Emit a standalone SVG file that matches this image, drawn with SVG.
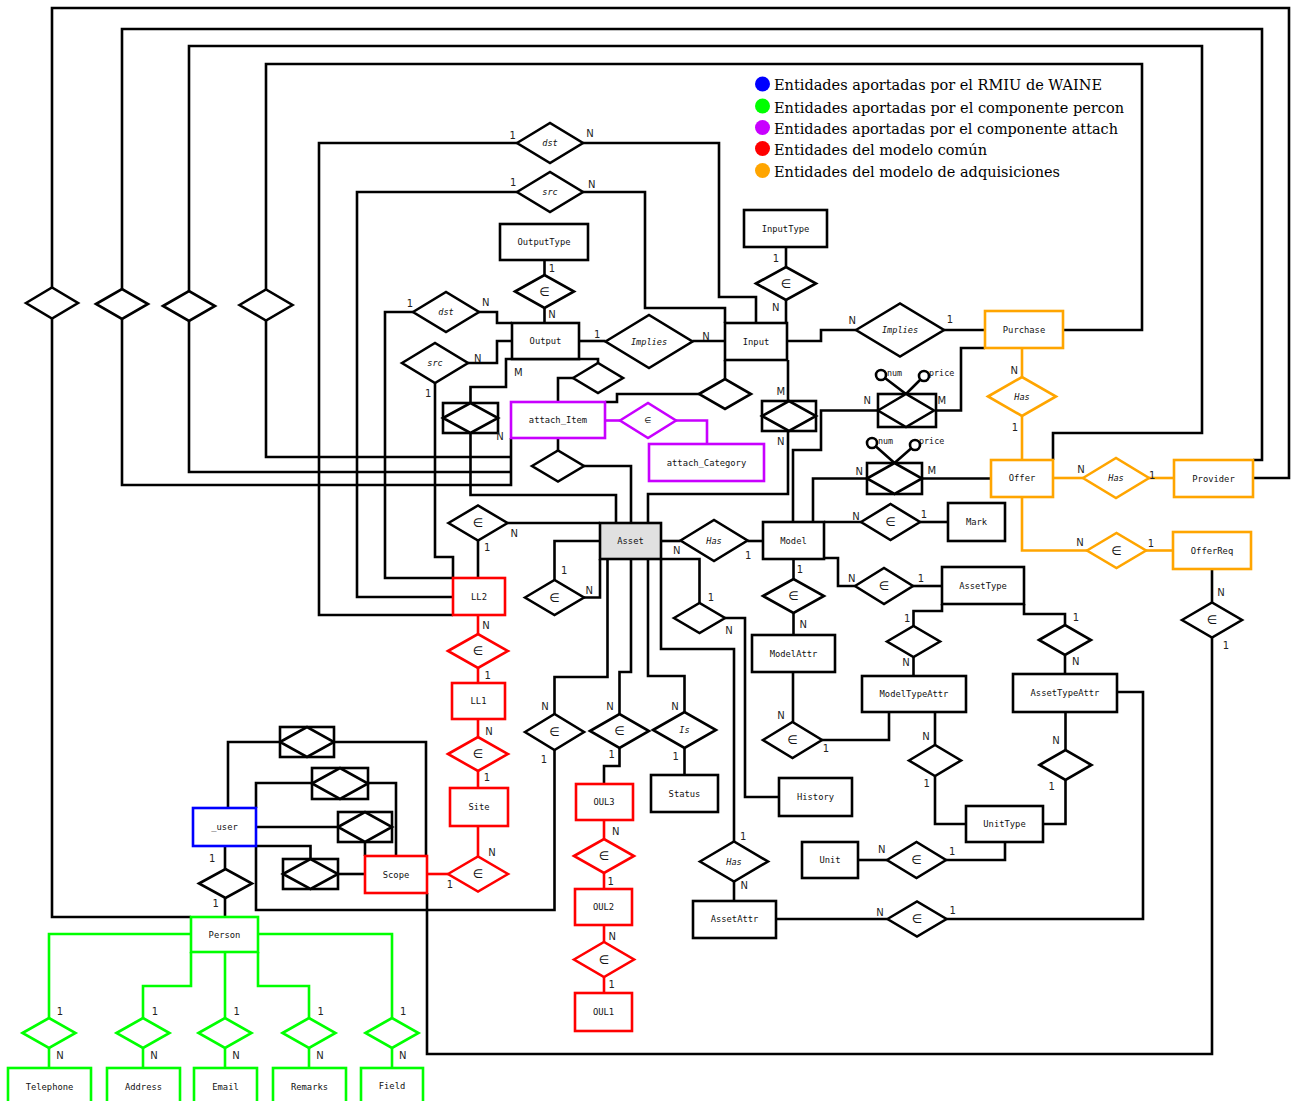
<svg xmlns="http://www.w3.org/2000/svg" width="1291" height="1101" viewBox="0 0 1291 1101">
<style>
.c{fill:none;stroke:#000;stroke-width:2.6;stroke-linejoin:miter}
.cr{fill:none;stroke:#f00;stroke-width:2.6}
.co{fill:none;stroke:#ffa500;stroke-width:2.6}
.cg{fill:none;stroke:#0f0;stroke-width:2.6}
.cp{fill:none;stroke:#c800ff;stroke-width:2.6}
.e{fill:#fff;stroke:#000;stroke-width:2.6}
.er{fill:#fff;stroke:#f00;stroke-width:2.6}
.eo{fill:#fff;stroke:#ffa500;stroke-width:2.6}
.eg{fill:#fff;stroke:#0f0;stroke-width:2.6}
.eb{fill:#fff;stroke:#00f;stroke-width:2.6}
.ep{fill:#fff;stroke:#c800ff;stroke-width:2.6}
.ea{fill:#e0e0e0;stroke:#000;stroke-width:2.6}
.d{fill:#fff;stroke:#000;stroke-width:2.6}
.dr{fill:#fff;stroke:#f00;stroke-width:2.6}
.do{fill:#fff;stroke:#ffa500;stroke-width:2.6}
.dg{fill:#fff;stroke:#0f0;stroke-width:2.6}
.dp{fill:#fff;stroke:#c800ff;stroke-width:2.6}
.ci{fill:#fff;stroke:#000;stroke-width:2.6}
.t{font-family:"DejaVu Sans Mono",monospace;font-size:8.8px;text-anchor:middle;dominant-baseline:central;fill:#111}
.ti{font-family:"DejaVu Sans Mono",monospace;font-size:8.6px;font-style:italic;text-anchor:middle;dominant-baseline:central;fill:#111}
.ta{font-family:"DejaVu Sans Mono",monospace;font-size:8.4px;dominant-baseline:central;fill:#111}
.k{font-family:"DejaVu Sans",sans-serif;font-size:10px;text-anchor:middle;dominant-baseline:central;fill:#222}
.in{font-family:"DejaVu Sans",sans-serif;font-size:12px;text-anchor:middle;dominant-baseline:central;fill:#111}
.lg{font-family:"DejaVu Serif",serif;font-size:15.5px;fill:#000}
</style>

<g id="connectors">
<polyline class="c" points="52,287.5 52,8 1289,8 1289,478 1253,478"/>
<polyline class="c" points="52,318.5 52,917 191,917"/>
<polyline class="c" points="122,289 122,29 1262,29 1262,460 1253,460"/>
<polyline class="c" points="122,319 122,485 511,485 511,438"/>
<polyline class="c" points="189,291 189,46 1202,46 1202,433 1053,433 1053,460"/>
<polyline class="c" points="189,321 189,472 511,472"/>
<polyline class="c" points="266,289.5 266,64 1142,64 1142,330 1063,330"/>
<polyline class="c" points="266,320.5 266,457 511,457"/>
<polyline class="c" points="517,143 319,143 319,615 453,615"/>
<polyline class="c" points="583,143 719,143 719,297 756,297 756,323"/>
<polyline class="c" points="517,192 357,192 357,597 453,597"/>
<polyline class="c" points="583,192 645,192 645,308 725,308 725,323"/>
<polyline class="c" points="413,312 385,312 385,578 453,578"/>
<polyline class="c" points="479,312 497,312 497,323 512,323"/>
<polyline class="c" points="468,363 497,363 497,341 512,341"/>
<polyline class="c" points="435,383 435,557 453,557 453,578"/>
<polyline class="c" points="544.5,260 544.5,275"/>
<polyline class="c" points="544.5,308 544.5,323"/>
<polyline class="c" points="786,247 786,267"/>
<polyline class="c" points="786,300 786,323"/>
<polyline class="c" points="579,341 605.5,341"/>
<polyline class="c" points="692.5,341 725,341"/>
<polyline class="c" points="787,341 821,341 821,330 856,330"/>
<polyline class="c" points="944,330 985,330"/>
<polyline class="c" points="470.5,403 470.5,387 506,387 506,359 598,359 598,363"/>
<polyline class="c" points="470.5,433 470.5,495 616,495 616,523"/>
<polyline class="c" points="573,378 558,378 558,402"/>
<polyline class="c" points="725,360 725,379"/>
<polyline class="c" points="699,394 617,394 617,402 605,402"/>
<polyline class="c" points="788,360 788,401"/>
<polyline class="c" points="788,431 788,494 648,494 648,523"/>
<polyline class="c" points="558,438 558,450.5"/>
<polyline class="c" points="584,466 631,466 631,523"/>
<polyline class="c" points="507.5,523 600,523"/>
<polyline class="c" points="478,540.5 478,578"/>
<polyline class="c" points="554.5,580 554.5,541 600,541"/>
<polyline class="c" points="584,597.5 600,597.5 600,559"/>
<polyline class="c" points="661,541 680.5,541"/>
<polyline class="c" points="747.5,541 763,541"/>
<polyline class="c" points="661,559 699.5,559 699.5,603"/>
<polyline class="c" points="725,618 745,618 745,797 779,797"/>
<polyline class="c" points="661,559 661,649 734,649 734,841.5"/>
<polyline class="c" points="734,881.5 734,901"/>
<polyline class="c" points="607.5,559 607.5,677 554.5,677 554.5,714"/>
<polyline class="c" points="554.5,750 554.5,910 256,910 256,846"/>
<polyline class="c" points="631,559 631,672 619.5,672 619.5,714"/>
<polyline class="c" points="619.5,748 619.5,766 604,766 604,784"/>
<polyline class="c" points="648,559 648,676 684.5,676 684.5,712"/>
<polyline class="c" points="684.5,748 684.5,775"/>
<polyline class="c" points="793.5,559 793.5,579"/>
<polyline class="c" points="793.5,613 793.5,635"/>
<polyline class="c" points="793,672 793,722"/>
<polyline class="c" points="822,740 889,740 889,712"/>
<polyline class="c" points="793,522 793,450 821,450 821,410.5 878,410.5"/>
<polyline class="c" points="936,410.5 961,410.5 961,348 985,348"/>
<polyline class="c" points="867,478.5 813,478.5 813,522"/>
<polyline class="c" points="922,478.5 991,478.5"/>
<polyline class="c" points="824,522 861,522"/>
<polyline class="c" points="920,522 948,522"/>
<polyline class="c" points="824,558 838,558 838,586 855,586"/>
<polyline class="c" points="913,586 942,586"/>
<polyline class="c" points="942,604 942,611 913.5,611 913.5,626"/>
<polyline class="c" points="913.5,657 913.5,676"/>
<polyline class="c" points="1024,604 1024,614 1065,614 1065,625"/>
<polyline class="c" points="1065,655 1065,674"/>
<polyline class="c" points="1117,692 1143,692 1143,919 946.5,919"/>
<polyline class="c" points="776,919 887.5,919"/>
<polyline class="c" points="935,712 935,745"/>
<polyline class="c" points="935,776 935,824 966,824"/>
<polyline class="c" points="1065.5,712 1065.5,750"/>
<polyline class="c" points="1065.5,780 1065.5,824 1043,824"/>
<polyline class="c" points="858,860 887,860"/>
<polyline class="c" points="946,860 1005,860 1005,842"/>
<polyline class="c" points="1212,569 1212,602.5"/>
<polyline class="c" points="1212,637.5 1212,1054 427,1054 427,893"/>
<polyline class="c" points="225,846 225,869"/>
<polyline class="c" points="225,898 225,917"/>
<polyline class="c" points="228,808 228,742 280,742"/>
<polyline class="c" points="334,742 426,742 426,856"/>
<polyline class="c" points="256,808 256,783 312,783"/>
<polyline class="c" points="368,783 396,783 396,856"/>
<polyline class="c" points="256,827 338,827"/>
<polyline class="c" points="365,842 365,856"/>
<polyline class="c" points="256,846 310.5,846 310.5,859"/>
<polyline class="c" points="338,874 365,874"/>
<polyline class="c" points="881,375 906,394 924,376"/>
<polyline class="c" points="872,443 894.5,463 915,445"/>
<polyline class="cr" points="478,615 478,634"/>
<polyline class="cr" points="478,668 478,683"/>
<polyline class="cr" points="478,719 478,737"/>
<polyline class="cr" points="478,771 478,788"/>
<polyline class="cr" points="478,826 478,856.5"/>
<polyline class="cr" points="448,874 427,874"/>
<polyline class="cr" points="604,820 604,839"/>
<polyline class="cr" points="604,873 604,889"/>
<polyline class="cr" points="604,925 604,942"/>
<polyline class="cr" points="604,977 604,993"/>
<polyline class="cp" points="605,420.5 620,420.5"/>
<polyline class="cp" points="676,420.5 707,420.5 707,444"/>
<polyline class="co" points="1022,348 1022,377"/>
<polyline class="co" points="1022,416 1022,460"/>
<polyline class="co" points="1053,478 1083,478"/>
<polyline class="co" points="1149,478 1174,478"/>
<polyline class="co" points="1022,497 1022,550.5 1087,550.5"/>
<polyline class="co" points="1146,550.5 1173,550.5"/>
<polyline class="cg" points="191,934 49,934 49,1018"/>
<polyline class="cg" points="191,952 191,986 143,986 143,1018"/>
<polyline class="cg" points="225,952 225,1018"/>
<polyline class="cg" points="258,952 258,986 309,986 309,1018"/>
<polyline class="cg" points="258,934 392,934 392,1018"/>
<polyline class="cg" points="49,1048 49,1068"/>
<polyline class="cg" points="143,1048 143,1068"/>
<polyline class="cg" points="225,1048 225,1068"/>
<polyline class="cg" points="309,1048 309,1068"/>
<polyline class="cg" points="392,1048 392,1068"/>
</g>

<g id="legend">
<circle cx="762.5" cy="84" r="7.5" fill="#0000ff"/>
<circle cx="762.5" cy="106" r="7.5" fill="#00ff00"/>
<circle cx="762.5" cy="127.5" r="7.5" fill="#c800ff"/>
<circle cx="762.5" cy="148.5" r="7.5" fill="#ff0000"/>
<circle cx="762.5" cy="170.5" r="7.5" fill="#ffa500"/>
<text class="lg" x="774" y="90" textLength="328" lengthAdjust="spacingAndGlyphs">Entidades aportadas por el RMIU de WAINE</text>
<text class="lg" x="774" y="112.5" textLength="350" lengthAdjust="spacingAndGlyphs">Entidades aportadas por el componente percon</text>
<text class="lg" x="774" y="134" textLength="344" lengthAdjust="spacingAndGlyphs">Entidades aportadas por el componente attach</text>
<text class="lg" x="774" y="155" textLength="213" lengthAdjust="spacingAndGlyphs">Entidades del modelo común</text>
<text class="lg" x="774" y="177" textLength="286" lengthAdjust="spacingAndGlyphs">Entidades del modelo de adquisiciones</text>
</g>

<g id="rel-D1"><polygon class="d" points="26,303 52,287.5 78,303 52,318.5"/></g>
<g id="rel-D2"><polygon class="d" points="96,304 122,289 148,304 122,319"/></g>
<g id="rel-D3"><polygon class="d" points="163,306 189,291 215,306 189,321"/></g>
<g id="rel-D4"><polygon class="d" points="239.5,305 266,289.5 292.5,305 266,320.5"/></g>
<g id="rel-dst-top"><polygon class="d" points="517,143 550,123 583,143 550,163"/><text class="ti" x="550" y="143">dst</text></g>
<g id="rel-src-top"><polygon class="d" points="517,192 550,172 583,192 550,212"/><text class="ti" x="550" y="192">src</text></g>
<g id="rel-ot"><polygon class="d" points="515,291.5 544.5,275 574,291.5 544.5,308"/><text class="in" x="544.5" y="291.5">∈</text></g>
<g id="rel-it"><polygon class="d" points="756,283.5 786,267 816,283.5 786,300"/><text class="in" x="786" y="283.5">∈</text></g>
<g id="rel-dst-small"><polygon class="d" points="413,312 446,292 479,312 446,332"/><text class="ti" x="446" y="312">dst</text></g>
<g id="rel-src-small"><polygon class="d" points="402,363 435,343 468,363 435,383"/><text class="ti" x="435" y="363">src</text></g>
<g id="rel-implies-l"><polygon class="d" points="605.5,341.5 649,315 692.5,341.5 649,368"/><text class="ti" x="649" y="341.5">Implies</text></g>
<g id="rel-implies-r"><polygon class="d" points="856,330 900,303.5 944,330 900,356.5"/><text class="ti" x="900" y="330">Implies</text></g>
<g id="rel-has-po"><polygon class="do" points="988,396.5 1022,377 1056,396.5 1022,416"/><text class="ti" x="1022" y="396.5">Has</text></g>
<g id="rel-has-op"><polygon class="do" points="1083,478 1116,458 1149,478 1116,498"/><text class="ti" x="1116" y="478">Has</text></g>
<g id="rel-in-oor"><polygon class="do" points="1087,550.5 1116.5,533 1146,550.5 1116.5,568"/><text class="in" x="1116.5" y="550.5">∈</text></g>
<g id="rel-in-oreq"><polygon class="d" points="1182,620 1212,602.5 1242,620 1212,637.5"/><text class="in" x="1212" y="620">∈</text></g>
<g id="rel-in-mark"><polygon class="d" points="861,522 890.5,504 920,522 890.5,540"/><text class="in" x="890.5" y="522">∈</text></g>
<g id="rel-in-at"><polygon class="d" points="855,586 884,568 913,586 884,604"/><text class="in" x="884" y="586">∈</text></g>
<g id="rel-in-model"><polygon class="d" points="763,596 793.5,579 824,596 793.5,613"/><text class="in" x="793.5" y="596">∈</text></g>
<g id="rel-at-l"><polygon class="d" points="887,641.5 913.5,626 940,641.5 913.5,657"/></g>
<g id="rel-at-r"><polygon class="d" points="1039,640 1065,625 1091,640 1065,655"/></g>
<g id="rel-in-ma"><polygon class="d" points="763,740 792.5,722 822,740 792.5,758"/><text class="in" x="792.5" y="740">∈</text></g>
<g id="rel-mta-u"><polygon class="d" points="909,760.5 935,745 961,760.5 935,776"/></g>
<g id="rel-ata-u"><polygon class="d" points="1039.5,765 1065.5,750 1091.5,765 1065.5,780"/></g>
<g id="rel-in-unit"><polygon class="d" points="887,860 916.5,842 946,860 916.5,878"/><text class="in" x="916.5" y="860">∈</text></g>
<g id="rel-in-aa"><polygon class="d" points="887.5,919 917,901.5 946.5,919 917,936.5"/><text class="in" x="917" y="919">∈</text></g>
<g id="rel-has-aa"><polygon class="d" points="700,861.5 734,841.5 768,861.5 734,881.5"/><text class="ti" x="734" y="861.5">Has</text></g>
<g id="rel-has-am"><polygon class="d" points="680.5,540.5 714,520 747.5,540.5 714,561"/><text class="ti" x="714" y="540.5">Has</text></g>
<g id="rel-in-ll2a"><polygon class="d" points="448.5,523 478,505.5 507.5,523 478,540.5"/><text class="in" x="478" y="523">∈</text></g>
<g id="rel-in-self"><polygon class="d" points="525,597.5 554.5,580 584,597.5 554.5,615"/><text class="in" x="554.5" y="597.5">∈</text></g>
<g id="rel-a-h"><polygon class="d" points="674,618 699.5,603 725,618 699.5,633"/></g>
<g id="rel-in-au"><polygon class="d" points="525,732 554.5,714 584,732 554.5,750"/><text class="in" x="554.5" y="732">∈</text></g>
<g id="rel-in-aoul"><polygon class="d" points="590,731 619.5,714 649,731 619.5,748"/><text class="in" x="619.5" y="731">∈</text></g>
<g id="rel-is"><polygon class="d" points="653,730 684.5,712 716,730 684.5,748"/><text class="ti" x="684.5" y="730">Is</text></g>
<g id="rel-in-ll2"><polygon class="dr" points="448,651 478,634 508,651 478,668"/><text class="in" x="478" y="651">∈</text></g>
<g id="rel-in-ll1"><polygon class="dr" points="448,754 478,737 508,754 478,771"/><text class="in" x="478" y="754">∈</text></g>
<g id="rel-in-site"><polygon class="dr" points="448,874 478,856.5 508,874 478,891.5"/><text class="in" x="478" y="874">∈</text></g>
<g id="rel-in-oul3"><polygon class="dr" points="574,856 604,839 634,856 604,873"/><text class="in" x="604" y="856">∈</text></g>
<g id="rel-in-oul2"><polygon class="dr" points="574,959.5 604,942 634,959.5 604,977"/><text class="in" x="604" y="959.5">∈</text></g>
<g id="rel-ai-a"><polygon class="d" points="532,466 558,450.5 584,466 558,481.5"/></g>
<g id="rel-o-ai"><polygon class="d" points="573,378 598,363 623,378 598,393"/></g>
<g id="rel-i-ai"><polygon class="d" points="699,394 725,379 751,394 725,409"/></g>
<g id="rel-in-attach"><polygon class="dp" points="620,420.5 648,403 676,420.5 648,438"/><text class="in" x="648" y="420.5" style="font-size:8px">∈</text></g>
<g id="rel-user-person"><polygon class="d" points="199,883.5 225.5,869 252,883.5 225.5,898"/></g>
<g id="rel-g1"><polygon class="dg" points="22.5,1033 49,1018 75.5,1033 49,1048"/></g>
<g id="rel-g2"><polygon class="dg" points="116.5,1033 143,1018 169.5,1033 143,1048"/></g>
<g id="rel-g3"><polygon class="dg" points="198.5,1033 225,1018 251.5,1033 225,1048"/></g>
<g id="rel-g4"><polygon class="dg" points="282.5,1033 309,1018 335.5,1033 309,1048"/></g>
<g id="rel-g5"><polygon class="dg" points="365.5,1033 392,1018 418.5,1033 392,1048"/></g>

<g id="assoc-output"><rect class="e" x="443" y="403" width="55" height="30"/><polygon class="d" points="443,418 470.5,403 498,418 470.5,433"/></g>
<g id="assoc-input"><rect class="e" x="762" y="401" width="54" height="30"/><polygon class="d" points="762,416 789,401 816,416 789,431"/></g>
<g id="assoc-numprice-1"><rect class="e" x="878" y="394" width="58" height="33"/><polygon class="d" points="878,410.5 906,394 934,410.5 906,427"/><circle class="ci" cx="881" cy="375" r="5"/><circle class="ci" cx="924" cy="376" r="5"/><text class="ta" x="887" y="373">num</text><text class="ta" x="929" y="373">price</text></g>
<g id="assoc-numprice-2"><rect class="e" x="867" y="463" width="55" height="31"/><polygon class="d" points="867,478.5 894.5,463 922,478.5 894.5,494"/><circle class="ci" cx="872" cy="443" r="5"/><circle class="ci" cx="915" cy="445" r="5"/><text class="ta" x="878" y="441">num</text><text class="ta" x="919" y="441">price</text></g>
<g id="assoc-a1"><rect class="e" x="280" y="727" width="54" height="30"/><polygon class="d" points="280,742 307,727 334,742 307,757"/></g>
<g id="assoc-a2"><rect class="e" x="312" y="768" width="56" height="31"/><polygon class="d" points="312,783.5 340,768 368,783.5 340,799"/></g>
<g id="assoc-a3"><rect class="e" x="338" y="812" width="54" height="30"/><polygon class="d" points="338,827 365,812 392,827 365,842"/></g>
<g id="assoc-a4"><rect class="e" x="283" y="859" width="55" height="30"/><polygon class="d" points="283,874 310.5,859 338,874 310.5,889"/></g>

<g id="OutputType"><rect class="e" x="500" y="224" width="88" height="36"/><text class="t" x="544" y="242">OutputType</text></g>
<g id="InputType"><rect class="e" x="744" y="210" width="83" height="37"/><text class="t" x="785.5" y="228.5">InputType</text></g>
<g id="Output"><rect class="e" x="512" y="323" width="67" height="36"/><text class="t" x="545.5" y="341">Output</text></g>
<g id="Input"><rect class="e" x="725" y="323" width="62" height="37"/><text class="t" x="756" y="341.5">Input</text></g>
<g id="Purchase"><rect class="eo" x="985" y="311" width="78" height="37"/><text class="t" x="1024" y="329.5">Purchase</text></g>
<g id="Offer"><rect class="eo" x="991" y="460" width="62" height="37"/><text class="t" x="1022" y="478">Offer</text></g>
<g id="Provider"><rect class="eo" x="1174" y="460" width="79" height="37"/><text class="t" x="1213.5" y="478.5">Provider</text></g>
<g id="OfferReq"><rect class="eo" x="1173" y="532" width="78" height="37"/><text class="t" x="1212" y="550.5">OfferReq</text></g>
<g id="Mark"><rect class="e" x="948" y="503" width="57" height="38"/><text class="t" x="976.5" y="521.5">Mark</text></g>
<g id="Model"><rect class="e" x="763" y="522" width="61" height="37"/><text class="t" x="793.5" y="540.5">Model</text></g>
<g id="Asset"><rect class="ea" x="600" y="523" width="61" height="36"/><text class="t" x="630.5" y="541">Asset</text></g>
<g id="attach_Item"><rect class="ep" x="511" y="402" width="94" height="36"/><text class="t" x="558" y="420">attach_Item</text></g>
<g id="attach_Category"><rect class="ep" x="649" y="444" width="115" height="37"/><text class="t" x="706.5" y="462.5">attach_Category</text></g>
<g id="AssetType"><rect class="e" x="942" y="567" width="82" height="37"/><text class="t" x="983" y="585.5">AssetType</text></g>
<g id="ModelAttr"><rect class="e" x="752" y="635" width="83" height="37"/><text class="t" x="793.5" y="653.5">ModelAttr</text></g>
<g id="ModelTypeAttr"><rect class="e" x="862" y="676" width="104" height="36"/><text class="t" x="914" y="694">ModelTypeAttr</text></g>
<g id="AssetTypeAttr"><rect class="e" x="1013" y="674" width="104" height="38"/><text class="t" x="1065" y="693">AssetTypeAttr</text></g>
<g id="UnitType"><rect class="e" x="966" y="806" width="77" height="36"/><text class="t" x="1004.5" y="824">UnitType</text></g>
<g id="Unit"><rect class="e" x="802" y="842" width="56" height="36"/><text class="t" x="830" y="860">Unit</text></g>
<g id="History"><rect class="e" x="779" y="778" width="73" height="38"/><text class="t" x="815.5" y="797">History</text></g>
<g id="Status"><rect class="e" x="651" y="775" width="67" height="37"/><text class="t" x="684.5" y="793.5">Status</text></g>
<g id="AssetAttr"><rect class="e" x="693" y="901" width="83" height="37"/><text class="t" x="734.5" y="919">AssetAttr</text></g>
<g id="OUL3"><rect class="er" x="576" y="784" width="57" height="36"/><text class="t" x="604" y="802">OUL3</text></g>
<g id="OUL2"><rect class="er" x="575" y="889" width="57" height="36"/><text class="t" x="603.5" y="907">OUL2</text></g>
<g id="OUL1"><rect class="er" x="575" y="993" width="57" height="38"/><text class="t" x="603.5" y="1012">OUL1</text></g>
<g id="LL2"><rect class="er" x="453" y="578" width="52" height="37"/><text class="t" x="479" y="596.5">LL2</text></g>
<g id="LL1"><rect class="er" x="452" y="683" width="53" height="36"/><text class="t" x="478.5" y="701">LL1</text></g>
<g id="Site"><rect class="er" x="450" y="788" width="58" height="38"/><text class="t" x="479" y="807">Site</text></g>
<g id="Scope"><rect class="er" x="365" y="856" width="62" height="37"/><text class="t" x="396" y="874.5">Scope</text></g>
<g id="_user"><rect class="eb" x="193" y="808" width="63" height="38"/><text class="t" x="224.5" y="827">_user</text></g>
<g id="Person"><rect class="eg" x="191" y="917" width="67" height="35"/><text class="t" x="224.5" y="934.5">Person</text></g>
<g id="Telephone"><rect class="eg" x="8" y="1068" width="83" height="42"/><text class="t" x="49.5" y="1086.5">Telephone</text></g>
<g id="Address"><rect class="eg" x="107" y="1068" width="73" height="42"/><text class="t" x="143.5" y="1086.5">Address</text></g>
<g id="Email"><rect class="eg" x="194" y="1068" width="63" height="42"/><text class="t" x="225.5" y="1086.5">Email</text></g>
<g id="Remarks"><rect class="eg" x="273" y="1068" width="73" height="42"/><text class="t" x="309.5" y="1086.5">Remarks</text></g>
<g id="Field"><rect class="eg" x="361" y="1068" width="62" height="42"/><text class="t" x="392" y="1085.5">Field</text></g>

<g id="cardinalities">
<text class="k" x="512.7" y="135">1</text><text class="k" x="590" y="133.3">N</text>
<text class="k" x="513.3" y="182.7">1</text><text class="k" x="591.7" y="184">N</text>
<text class="k" x="552" y="268">1</text><text class="k" x="552" y="314">N</text>
<text class="k" x="776" y="258">1</text><text class="k" x="775.7" y="307">N</text>
<text class="k" x="410" y="303">1</text><text class="k" x="485.7" y="302.3">N</text>
<text class="k" x="477.7" y="358.3">N</text><text class="k" x="428.3" y="393.3">1</text>
<text class="k" x="597.3" y="334.3">1</text><text class="k" x="706" y="336.7">N</text>
<text class="k" x="852.3" y="320.7">N</text><text class="k" x="950" y="319">1</text>
<text class="k" x="518.3" y="372.7">M</text><text class="k" x="500" y="436.7">N</text>
<text class="k" x="780.7" y="391.7">M</text><text class="k" x="780.7" y="441">N</text>
<text class="k" x="867.3" y="400.7">N</text><text class="k" x="941.7" y="400.7">M</text>
<text class="k" x="859.3" y="471">N</text><text class="k" x="931.7" y="470">M</text>
<text class="k" x="1014.3" y="370">N</text><text class="k" x="1015" y="427.7">1</text>
<text class="k" x="1081" y="469.3">N</text><text class="k" x="1152.3" y="475">1</text>
<text class="k" x="1080" y="542.3">N</text><text class="k" x="1151" y="543.3">1</text>
<text class="k" x="1221" y="592.3">N</text><text class="k" x="1226" y="645.7">1</text>
<text class="k" x="856" y="516">N</text><text class="k" x="924" y="514.3">1</text>
<text class="k" x="514.3" y="533.3">N</text><text class="k" x="487.3" y="547.3">1</text>
<text class="k" x="564.3" y="570">1</text><text class="k" x="589.3" y="590">N</text>
<text class="k" x="676.7" y="550">N</text><text class="k" x="748.3" y="555">1</text>
<text class="k" x="800" y="569.3">1</text><text class="k" x="803.3" y="624">N</text>
<text class="k" x="851.7" y="578.3">N</text><text class="k" x="921" y="578.3">1</text>
<text class="k" x="711" y="597.3">1</text><text class="k" x="729" y="630">N</text>
<text class="k" x="907.3" y="618.3">1</text><text class="k" x="906" y="662.7">N</text>
<text class="k" x="1076" y="617.7">1</text><text class="k" x="1075.7" y="661.7">N</text>
<text class="k" x="486" y="625">N</text><text class="k" x="487.7" y="675">1</text>
<text class="k" x="489" y="731.7">N</text><text class="k" x="487" y="777">1</text>
<text class="k" x="492" y="852">N</text><text class="k" x="450" y="884">1</text>
<text class="k" x="545" y="706.7">N</text><text class="k" x="544" y="759">1</text>
<text class="k" x="610" y="706.7">N</text><text class="k" x="611.7" y="754">1</text>
<text class="k" x="675" y="706.7">N</text><text class="k" x="675.7" y="756">1</text>
<text class="k" x="781" y="715">N</text><text class="k" x="826" y="748.3">1</text>
<text class="k" x="926" y="736.5">N</text><text class="k" x="926.7" y="783.3">1</text>
<text class="k" x="1056" y="740">N</text><text class="k" x="1051.7" y="786.7">1</text>
<text class="k" x="615.7" y="831.7">N</text><text class="k" x="610.7" y="881">1</text>
<text class="k" x="612.3" y="936.7">N</text><text class="k" x="611.7" y="984.3">1</text>
<text class="k" x="743.3" y="836">1</text><text class="k" x="744.3" y="885.7">N</text>
<text class="k" x="881.7" y="849">N</text><text class="k" x="952.3" y="851.7">1</text>
<text class="k" x="880" y="912.7">N</text><text class="k" x="952.7" y="910">1</text>
<text class="k" x="212.3" y="858.3">1</text><text class="k" x="215.7" y="903.3">1</text>
<text class="k" x="60" y="1011.7">1</text><text class="k" x="155" y="1011">1</text><text class="k" x="236.7" y="1011">1</text><text class="k" x="320.7" y="1011">1</text><text class="k" x="403.3" y="1011">1</text>
<text class="k" x="60" y="1055">N</text><text class="k" x="154" y="1055">N</text><text class="k" x="236" y="1055">N</text><text class="k" x="320" y="1055">N</text><text class="k" x="402.7" y="1055">N</text>
</g>
</svg>
